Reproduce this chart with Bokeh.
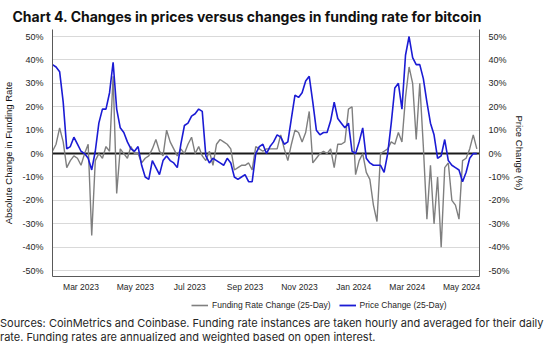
import pandas as pd
from bokeh.plotting import figure
from bokeh.layouts import column
from bokeh.models import (Range1d, LinearAxis, FixedTicker, PrintfTickFormatter,
                          Legend, LegendItem, Span, Div)
from bokeh.embed import file_html
from bokeh.resources import INLINE

# ---------------- data ----------------
start_date = "2023-01-28"
step_days = 4

price_change = [38, 37, 35, 22, 2, 3, 7, 4, 1, 0, -2, -7, 1, 13, 19, 19, 26, 39, 19, 11,
                9, 5, 2, 1, 3, -5, -10, -11, -3, -6, -9, -3, -1, -3, -4, -6, 4, 12, 13, 16,
                17, 19, 18, -1, -4, -2, -3, -4, -5, -2, -4, -10, -11, -10, -9, -12, -12, 0, 3, 4,
                0, 3, 5, 8, 7, 4, 5, 15, 25, 24, 26, 31, 33, 22, 10, 8, 9, 9, 14, 22,
                15, 13, 11, 13, 1, 0, 5, 11, -2, -4, -5, -5, -5, -8, 0, 13, 28, 30, 19, 42,
                50, 41, 38, 38, 32, 22, 13, 8, -2, -1, 6, -3, -5, -6, -7, -12, -8, -2, 0, 0]

funding_change = [1, 4, 11, 5, -6, -3, -1, -2, -5, 0, 4, -35, -3, 0, -2, 3, 1, 33, -17, 2,
                  0, -2, 3, 0, 0, -4, -2, -1, 2, 6, 1, -1, 10, 5, 2, -1, 2, 0, 4, 7,
                  0, 3, -1, -3, 1, -5, 4, 6, 5, 4, 2, -7, -6, -5, -5, -4, -7, 3, 2, 1,
                  2, 2, 2, 2, 8, 2, -3, 4, 10, 9, 5, 9, 18, -4, -2, 0, 1, 0, 2, -6,
                  4, 4, 5, 19, 20, -9, -3, 0, -8, -11, -22, -29, 0, 1, 2, 5, 4, 9, 5, 24,
                  37, 30, 6, 30, 3, -28, -5, -30, -10, -40, -6, -4, -20, -22, -28, -3, -2, 2, 8, 2]

y_ticks = [-50, -40, -30, -20, -10, 0, 10, 20, 30, 40, 50]
x_tick_dates = ["2023-03-01", "2023-05-01", "2023-07-01", "2023-09-01",
                "2023-11-01", "2024-01-01", "2024-03-01", "2024-05-01"]
x_tick_labels = ["Mar 2023", "May 2023", "Jul 2023", "Sep 2023",
                 "Nov 2023", "Jan 2024", "Mar 2024", "May 2024"]

title_text = "Chart 4. Changes in prices versus changes in funding rate for bitcoin"
source_lines = ["Sources: CoinMetrics and Coinbase. Funding rate instances are taken hourly and averaged for their daily",
                "rate. Funding rates are annualized and weighted based on open interest."]

# ---------------- build ----------------
dates = pd.date_range(start_date, periods=len(price_change), freq=f"{step_days}D")
x_start, x_end = pd.Timestamp("2023-01-28"), pd.Timestamp("2024-05-21")

FONT = "Liberation Sans"
TFONT = "Inter"
W = 529
gray = "#7f7f7f"
blue = "#1b1bd4"

p = figure(width=W, height=296, x_axis_type="datetime", output_backend="svg",
           toolbar_location=None,
           x_range=Range1d(x_start, x_end), y_range=Range1d(-52.5, 53),
           min_border_left=40, min_border_right=50, min_border_top=26, min_border_bottom=20)
p.outline_line_color = None
p.background_fill_color = "white"
p.border_fill_color = "white"
p.margin = (0, 0, 0, 0)

p.title.text = title_text
p.title.text_font = TFONT
p.title.text_font_size = "14px"
p.title.text_font_style = "bold"
p.title.text_color = "#111111"
p.title.align = "left"
p.title.offset = -40
p.title.standoff = 10

p.extra_y_ranges = {"right": Range1d(-52.5, 53)}

p.xgrid.visible = False
p.ygrid.grid_line_color = "#d9d9d9"
p.ygrid.grid_line_width = 1

zero = Span(location=0, dimension="width", line_color="#1a1a1a", line_width=2, level="underlay")
p.add_layout(zero)

p.line(dates, funding_change, line_color=gray, line_width=1.4)
p.line(dates, price_change, line_color=blue, line_width=1.6)

tick_ms = [pd.Timestamp(d).value // 10**6 for d in x_tick_dates]
xa = p.xaxis[0]
xa.ticker = FixedTicker(ticks=tick_ms)
xa.major_label_overrides = {t: lab for t, lab in zip(tick_ms, x_tick_labels)}
xa.major_tick_line_color = None
xa.minor_tick_line_color = None
xa.major_tick_out = 0
xa.minor_tick_out = 0
xa.axis_line_color = "#595959"
xa.major_label_standoff = 5
xa.major_label_text_font = FONT
xa.major_label_text_font_size = "8.5px"
xa.major_label_text_color = "#262626"

ya = p.yaxis[0]
ya.ticker = FixedTicker(ticks=y_ticks)
ya.formatter = PrintfTickFormatter(format="%d%%")
ya.axis_label = "Absolute Change in Funding Rate"
ya2 = LinearAxis(y_range_name="right", ticker=FixedTicker(ticks=y_ticks),
                 formatter=PrintfTickFormatter(format="%d%%"),
                 axis_label="Price Change (%)")
p.add_layout(ya2, "right")
for ax in (ya, ya2):
    ax.major_tick_line_color = None
    ax.minor_tick_line_color = None
    ax.axis_line_color = "#595959"
    ax.major_label_standoff = 3
    ax.major_label_text_font = FONT
    ax.major_label_text_font_size = "9px"
    ax.major_label_text_color = "#262626"
    ax.axis_label_text_font = FONT
    ax.axis_label_text_font_size = "9.5px"
    ax.axis_label_text_font_style = "normal"
    ax.axis_label_text_color = "#111111"
ya.axis_label_standoff = 5
ya2.axis_label_standoff = 1
p.ygrid.ticker = FixedTicker(ticks=[t for t in y_ticks if t != 0])

# legend strip (series drawn out of view; only the legend is visible)
lf = figure(width=W, height=16, output_backend="svg", toolbar_location=None,
            x_axis_type="datetime", x_range=Range1d(x_start, x_end), y_range=Range1d(500, 501),
            x_axis_location=None, y_axis_location=None, min_border=0)
lf.margin = (0, 0, 0, 0)
lf.grid.visible = False
lf.outline_line_color = None
lg = lf.line(dates, funding_change, line_color=gray, line_width=1.6)
lb = lf.line(dates, price_change, line_color=blue, line_width=1.8)
legend = Legend(items=[LegendItem(label="Funding Rate Change (25-Day)", renderers=[lg]),
                       LegendItem(label="Price Change (25-Day)", renderers=[lb])],
                orientation="horizontal", location=(139, 1),
                border_line_color=None, background_fill_alpha=0,
                label_text_font=FONT, label_text_font_size="8.5px", label_text_color="#262626",
                glyph_width=17, glyph_height=12, label_standoff=4, spacing=8,
                padding=1, margin=0)
lf.add_layout(legend)

source_html = ("<div style='padding-top:4px;line-height:14px;white-space:nowrap'>"
               + "<br>".join(source_lines) + "</div>")
source_div = Div(text=source_html, width=W, height=34, margin=(0, 0, 0, 0),
                 styles={"font-family": TFONT, "font-size": "11px", "color": "#262626"})

layout = column(p, lf, source_div, spacing=0)
open("out.html", "w").write(file_html(layout, INLINE))
